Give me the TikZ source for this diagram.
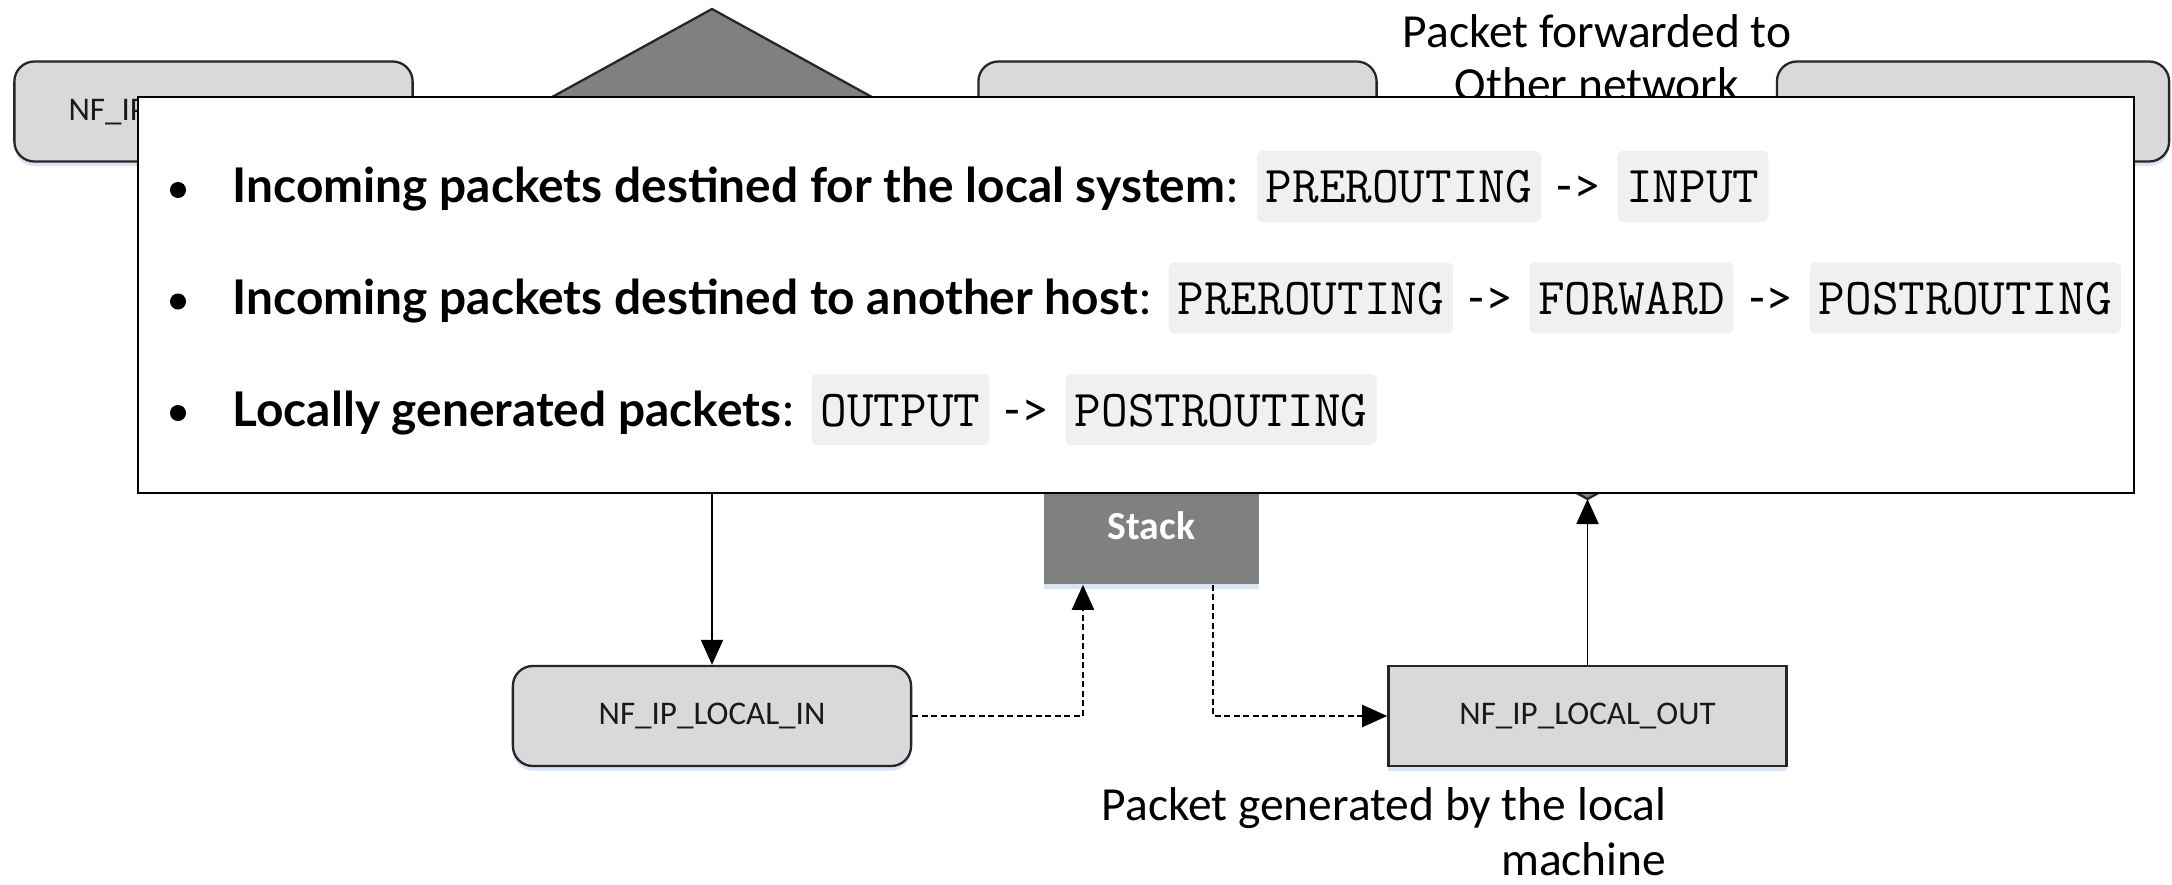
\documentclass[tikz,border=0pt]{standalone}
\usepackage{fontspec}
\setmainfont{Carlito}
\newfontfamily\lato{Lato}
\usetikzlibrary{arrows.meta,shapes.geometric,shadows}
\definecolor{boxgray}{HTML}{D9D9D9}
\definecolor{midgray}{HTML}{808080}
\definecolor{codebg}{HTML}{F0F0F0}
\definecolor{glow}{HTML}{C9DAF0}
\tikzset{
  glowshadow/.style={drop shadow={shadow xshift=0cm, shadow yshift=-0.045cm, fill=glow, opacity=0.7}},
  hook/.style={draw=black!85, line width=0.65pt, fill=boxgray, rounded corners=0.2cm,
    minimum width=3.98cm, minimum height=1.0cm, inner sep=0pt,
    font=\fontsize{9.4}{11}\selectfont, text=black!90, glowshadow},
  hooksq/.style={hook, rounded corners=0pt},
  decshape/.style={draw=black!85, line width=0.65pt, fill=midgray},
  stackbox/.style={fill=midgray, minimum width=2.15cm, minimum height=1.17cm, inner sep=0pt,
    font=\bfseries\fontsize{11.3}{13}\selectfont, text=white, glowshadow},
  panel/.style={draw=black, line width=0.6pt, fill=white, minimum width=19.94cm, minimum height=3.96cm, inner sep=0pt},
  conn/.style={draw=black, line width=0.55pt, -{Triangle[length=0.25cm, width=0.22cm]}},
  dconn/.style={conn, dash pattern=on 0.06cm off 0.035cm},
  note/.style={inner sep=0pt, font=\fontsize{13.5}{15.2}\selectfont},
  bt/.style={inner sep=0pt, font=\lato\bfseries\fontsize{13.6}{15}\selectfont},
  rt/.style={inner sep=0pt, font=\lato\fontsize{13.6}{15}\selectfont},
  code/.style={fill=codebg, rounded corners=0.06cm, inner xsep=0.09cm, inner ysep=0pt,
    text height=0.52cm, text depth=0.19cm, font=\ttfamily\fontsize{14.7}{16}\selectfont},
  bul/.style={circle, fill=black, inner sep=0pt, minimum size=0.16cm},
}
\begin{document}
\begin{tikzpicture}[x=0.01cm,y=-0.01cm]
\useasboundingbox (0,0) rectangle (2172,885);
\fill[white] (0,0) rectangle (2172,885);
% top row (mostly hidden by the panel)
\node[hook] (pre) at (213.5,111.5) {NF\_IP\_PRE\_ROUTING};
\draw[decshape] (712,9) -- (930,129) -- (712,249) -- (494,129) -- cycle;
\node[hook] (fwd) at (1177.5,111.5) {};
\node[hook, minimum width=3.92cm] (post) at (1973,111.5) {};
\node[note, align=center, anchor=base] (fwdtxt) at (1597,101) {Packet forwarded to\\Other network};
% lower decision and stack (partly hidden)
\draw[decshape] (1587.5,499) -- (1787.5,389) -- (1587.5,279) -- (1387.5,389) -- cycle;
\coordinate (dec2) at (1587.5,499);
\node[stackbox] (stack) at (1151.5,525.5) {Stack};
% overlay panel
\node[panel] (panel) at (1136,295) {};
% bullet lines
\node[bul] (b1) at (178,190) {};
\node[bt, anchor=base west] (t1) at (232,203) {Incoming packets destined for the local system};
\node[rt, anchor=base west] (c1) at (t1.base east) {:};
\node[code, anchor=base west] (k1a) at ([xshift=0.17cm]c1.base east) {PREROUTING};
\node[rt, anchor=base west] (a1a) at ([xshift=0.13cm]k1a.base east) {->};
\node[code, anchor=base west] (k1b) at ([xshift=0.15cm]a1a.base east) {INPUT};

\node[bul] (b2) at (178,301.5) {};
\node[bt, anchor=base west] (t2) at (232,314.5) {Incoming packets destined to another host};
\node[rt, anchor=base west] (c2) at (t2.base east) {:};
\node[code, anchor=base west] (k2a) at ([xshift=0.16cm]c2.base east) {PREROUTING};
\node[rt, anchor=base west] (a2a) at ([xshift=0.13cm]k2a.base east) {->};
\node[code, anchor=base west] (k2b) at ([xshift=0.15cm]a2a.base east) {FORWARD};
\node[rt, anchor=base west] (a2b) at ([xshift=0.13cm]k2b.base east) {->};
\node[code, anchor=base west] (k2c) at ([xshift=0.15cm]a2b.base east) {POSTROUTING};

\node[bul] (b3) at (178,413) {};
\node[bt, anchor=base west] (t3) at (232,426) {Locally generated packets};
\node[rt, anchor=base west] (c3) at (t3.base east) {:};
\node[code, anchor=base west] (k3a) at ([xshift=0.16cm]c3.base east) {OUTPUT};
\node[rt, anchor=base west] (a3a) at ([xshift=0.13cm]k3a.base east) {->};
\node[code, anchor=base west] (k3b) at ([xshift=0.15cm]a3a.base east) {POSTROUTING};
% bottom hooks
\node[hook] (lin) at (712,716) {NF\_IP\_LOCAL\_IN};
\node[hooksq] (lout) at (1587.5,716) {NF\_IP\_LOCAL\_OUT};
% connectors
\draw[conn] (panel.south -| lin.north) -- (lin.north);
\draw[dconn] (lin.east) -| ([xshift=-0.685cm]stack.south);
\draw[dconn] ([xshift=0.615cm]stack.south) |- (lout.west);
\draw[conn] (lout.north) -- (dec2);
% note below
\node[note, font=\fontsize{13.5}{15.4}\selectfont, align=right, anchor=base east] (gentxt) at (1667,875) {Packet generated by the local\\machine};
\end{tikzpicture}
\end{document}
